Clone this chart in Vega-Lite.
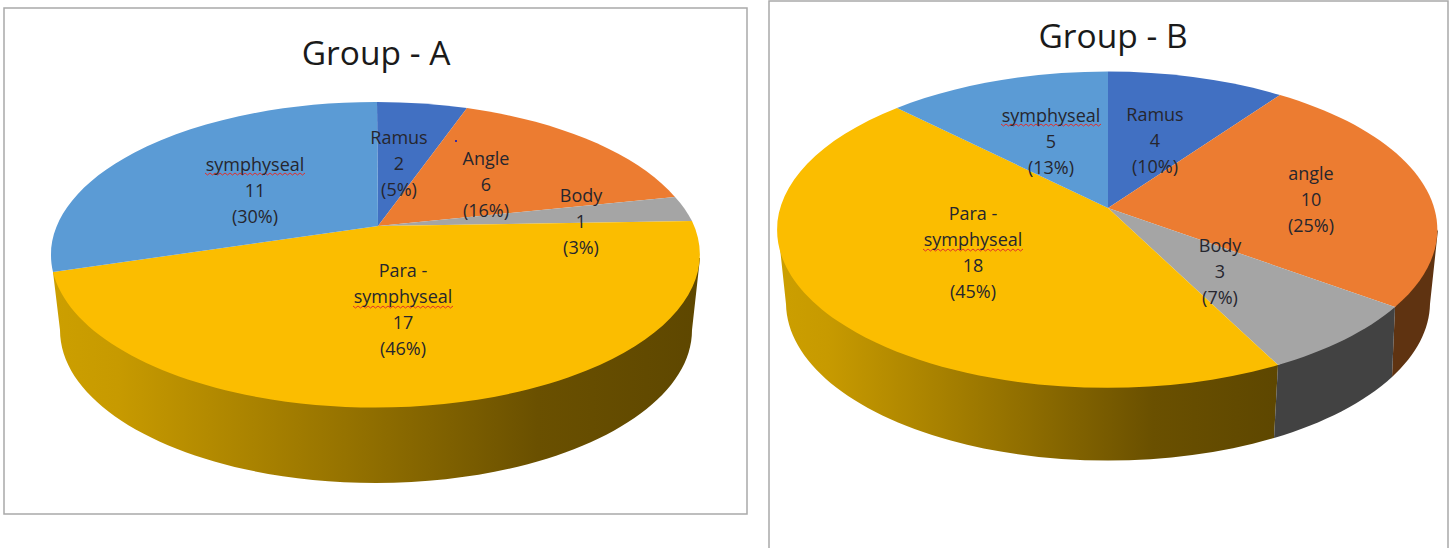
{
  "$schema": "https://vega.github.io/schema/vega-lite/v6.json",
  "width": 1453,
  "height": 548,
  "padding": 0,
  "autosize": {"type": "none"},
  "background": "white",
  "view": {"stroke": null},
  "datasets": {
    "slices": [
      {"slice": 1, "panel": 1, "key": "A-Ramus", "name": "Ramus", "count": 2, "pct": 5},
      {"slice": 2, "panel": 1, "key": "A-Angle", "name": "Angle", "count": 6, "pct": 16},
      {"slice": 3, "panel": 1, "key": "A-Body", "name": "Body", "count": 1, "pct": 3},
      {"slice": 4, "panel": 1, "key": "A-Para", "name": "Para -|symphyseal", "count": 17, "pct": 46},
      {"slice": 5, "panel": 1, "key": "A-Symph", "name": "symphyseal", "count": 11, "pct": 30},
      {"slice": 6, "panel": 2, "key": "B-Ramus", "name": "Ramus", "count": 4, "pct": 10},
      {"slice": 7, "panel": 2, "key": "B-Angle", "name": "angle", "count": 10, "pct": 25},
      {"slice": 8, "panel": 2, "key": "B-Body", "name": "Body", "count": 3, "pct": 7},
      {"slice": 9, "panel": 2, "key": "B-Para", "name": "Para -|symphyseal", "count": 18, "pct": 45},
      {"slice": 10, "panel": 2, "key": "B-Symph", "name": "symphyseal", "count": 5, "pct": 13}
    ],
    "panels": [
      {"panel": 1, "title": "Group - A"},
      {"panel": 2, "title": "Group - B"}
    ]
  },
  "layer": [
    {
      "description": "Chart frames",
      "data": {"name": "panels"},
      "mark": {"type": "point", "filled": false, "opacity": 1, "stroke": "#a9a9a9", "strokeWidth": 1.5},
      "encoding": {
        "x": {"field": "panel", "type": "quantitative", "axis": null, "scale": {"domain": [1, 2], "range": [378, 1108]}},
        "y": {"field": "panel", "type": "quantitative", "axis": null, "scale": {"domain": [1, 2], "range": [226, 208]}},
        "size": {"value": 4},
        "shape": {
          "field": "panel", "type": "nominal", "legend": null,
          "scale": {"domain": [1, 2], "range": [
            "M-374,-218L369,-218L369,288L-374,288Z",
            "M-339,-207L340,-207L340,350L-339,350Z"
          ]}
        }
      }
    },
    {
      "description": "Shaded rim under the Para-symphyseal slices",
      "data": {"name": "slices"},
      "transform": [{"filter": "datum.key === 'A-Para' || datum.key === 'B-Para'"}],
      "mark": {
        "type": "point", "filled": true, "opacity": 1,
        "fill": {
          "gradient": "linear", "x1": 0, "y1": 0, "x2": 1, "y2": 0,
          "stops": [
            {"offset": 0, "color": "#cc9f00"},
            {"offset": 0.1, "color": "#c79a00"},
            {"offset": 0.45, "color": "#967300"},
            {"offset": 0.75, "color": "#6a5000"},
            {"offset": 1, "color": "#5e4700"}
          ]
        }
      },
      "encoding": {
        "x": {"field": "panel", "type": "quantitative", "axis": null, "scale": {"domain": [1, 2], "range": [378, 1108]}},
        "y": {"field": "panel", "type": "quantitative", "axis": null, "scale": {"domain": [1, 2], "range": [226, 208]}},
        "size": {"value": 4},
        "shape": {
          "field": "key", "type": "nominal", "legend": null,
          "scale": {"domain": ["A-Para", "B-Para"], "range": [
            "M-325,46L322,32L314,104A316,153 0 0 1 -318,104Z",
            "M-330,21.5L170,157L166,230A322,158 0 0 1 -322,96Z"
          ]}
        }
      }
    },
    {
      "description": "Flat rim under the Body and angle slices of the second pie",
      "data": {"name": "slices"},
      "transform": [{"filter": "datum.key === 'B-Body' || datum.key === 'B-Angle'"}],
      "mark": {"type": "point", "filled": true, "opacity": 1},
      "encoding": {
        "x": {"field": "panel", "type": "quantitative", "axis": null, "scale": {"domain": [1, 2], "range": [378, 1108]}},
        "y": {"field": "panel", "type": "quantitative", "axis": null, "scale": {"domain": [1, 2], "range": [226, 208]}},
        "size": {"value": 4},
        "color": {
          "field": "key", "type": "nominal", "legend": null,
          "scale": {"domain": ["B-Body", "B-Angle"], "range": ["#424242", "#5f3311"]}
        },
        "shape": {
          "field": "key", "type": "nominal", "legend": null,
          "scale": {"domain": ["B-Body", "B-Angle"], "range": [
            "M170,157L287,99L284,169A322,158 0 0 1 166,230Z",
            "M287,99L330,21.5L322,96A322,158 0 0 1 284,169Z"
          ]}
        }
      }
    },
    {
      "description": "Top faces of both pies",
      "data": {"name": "slices"},
      "mark": {"type": "point", "filled": true, "opacity": 1},
      "encoding": {
        "x": {"field": "panel", "type": "quantitative", "axis": null, "scale": {"domain": [1, 2], "range": [378, 1108]}},
        "y": {"field": "panel", "type": "quantitative", "axis": null, "scale": {"domain": [1, 2], "range": [226, 208]}},
        "size": {"value": 4},
        "color": {
          "field": "key", "type": "nominal", "legend": null,
          "scale": {
            "domain": ["A-Ramus", "A-Angle", "A-Body", "A-Para", "A-Symph", "B-Ramus", "B-Angle", "B-Body", "B-Para", "B-Symph"],
            "range": ["#4170c2", "#ec7c31", "#a5a5a5", "#fbbd00", "#5b9bd5", "#4170c2", "#ec7c31", "#a5a5a5", "#fbbd00", "#5b9bd5"]
          }
        },
        "shape": {
          "field": "key", "type": "nominal", "legend": null,
          "scale": {
            "domain": ["A-Ramus", "A-Angle", "A-Body", "A-Para", "A-Symph", "B-Ramus", "B-Angle", "B-Body", "B-Para", "B-Symph"],
            "range": [
              "M0,0L-1,-124A324.5,153 0 0 1 89,-118Z",
              "M0,0L89,-118A324.5,153 0 0 1 297,-29Z",
              "M0,0L297,-29A324.5,153 0 0 1 314,-5Z",
              "M0,0L314,-5A324.5,153 0 1 1 -325,46Z",
              "M0,0L-325,46A324.5,153 0 0 1 -1,-124Z",
              "M0,0L0,-136.5A330,158 0 0 1 172,-113Z",
              "M0,0L172,-113A330,158 0 0 1 287,99Z",
              "M0,0L287,99A330,158 0 0 1 170,157Z",
              "M0,0L170,157A330,158 0 0 1 -211,-100Z",
              "M0,0L-211,-100A330,158 0 0 1 0,-136.5Z"
            ]
          }
        }
      }
    },
    {
      "description": "Stray speck on the Angle slice",
      "data": {"name": "panels"},
      "transform": [{"filter": "datum.panel === 1"}],
      "mark": {"type": "point", "filled": true, "opacity": 1, "fill": "#3b2c9e"},
      "encoding": {
        "x": {"field": "panel", "type": "quantitative", "axis": null, "scale": {"domain": [1, 2], "range": [378, 1108]}},
        "y": {"field": "panel", "type": "quantitative", "axis": null, "scale": {"domain": [1, 2], "range": [226, 208]}},
        "size": {"value": 4},
        "shape": {"value": "M77,-86L79,-86L79,-84L77,-84Z"}
      }
    },
    {
      "description": "Spell-check squiggles under the word symphyseal",
      "data": {"name": "slices"},
      "transform": [{"filter": "indexof(datum.name, 'symphyseal') >= 0"}],
      "mark": {"type": "point", "filled": false, "opacity": 1, "stroke": "#e0302c", "strokeWidth": 1},
      "encoding": {
        "x": {"field": "slice", "type": "quantitative", "axis": null, "scale": {"domain": [1, 2, 3, 4, 5, 6, 7, 8, 9, 10], "range": [399, 486, 581, 403, 255, 1155, 1311, 1220, 973, 1051]}},
        "y": {"field": "slice", "type": "quantitative", "axis": null, "scale": {"domain": [1, 2, 3, 4, 5, 6, 7, 8, 9, 10], "range": [139, 160, 197, 272, 166, 116, 175, 247, 215, 117]}},
        "size": {"value": 4},
        "shape": {
          "field": "name", "type": "nominal", "legend": null,
          "scale": {"domain": ["symphyseal", "Para -|symphyseal"], "range": [
            "M-50,7l2.5,2l2.5,-2l2.5,2l2.5,-2l2.5,2l2.5,-2l2.5,2l2.5,-2l2.5,2l2.5,-2l2.5,2l2.5,-2l2.5,2l2.5,-2l2.5,2l2.5,-2l2.5,2l2.5,-2l2.5,2l2.5,-2l2.5,2l2.5,-2l2.5,2l2.5,-2l2.5,2l2.5,-2l2.5,2l2.5,-2l2.5,2l2.5,-2l2.5,2l2.5,-2l2.5,2l2.5,-2l2.5,2l2.5,-2l2.5,2l2.5,-2l2.5,2l2.5,-2",
            "M-50,34l2.5,2l2.5,-2l2.5,2l2.5,-2l2.5,2l2.5,-2l2.5,2l2.5,-2l2.5,2l2.5,-2l2.5,2l2.5,-2l2.5,2l2.5,-2l2.5,2l2.5,-2l2.5,2l2.5,-2l2.5,2l2.5,-2l2.5,2l2.5,-2l2.5,2l2.5,-2l2.5,2l2.5,-2l2.5,2l2.5,-2l2.5,2l2.5,-2l2.5,2l2.5,-2l2.5,2l2.5,-2l2.5,2l2.5,-2l2.5,2l2.5,-2l2.5,2l2.5,-2"
          ]}
        }
      }
    },
    {
      "description": "Slice labels: name, count and percentage",
      "data": {"name": "slices"},
      "transform": [{"calculate": "datum.name + '|' + datum.count + '|(' + datum.pct + '%)'", "as": "label"}],
      "mark": {"type": "text", "font": "Open Sans", "fontSize": 18, "lineHeight": 26, "lineBreak": "|", "align": "center", "baseline": "middle", "fill": "#26262e"},
      "encoding": {
        "x": {"field": "slice", "type": "quantitative", "axis": null, "scale": {"domain": [1, 2, 3, 4, 5, 6, 7, 8, 9, 10], "range": [399, 486, 581, 403, 255, 1155, 1311, 1220, 973, 1051]}},
        "y": {"field": "slice", "type": "quantitative", "axis": null, "scale": {"domain": [1, 2, 3, 4, 5, 6, 7, 8, 9, 10], "range": [139, 160, 197, 272, 166, 116, 175, 247, 215, 117]}},
        "text": {"field": "label", "type": "nominal"}
      }
    },
    {
      "description": "Chart titles",
      "data": {"name": "panels"},
      "mark": {"type": "text", "font": "Open Sans", "fontSize": 33.5, "align": "center", "baseline": "middle", "fill": "#1a1a1a"},
      "encoding": {
        "x": {"field": "panel", "type": "quantitative", "axis": null, "scale": {"domain": [1, 2], "range": [376, 1113]}},
        "y": {"field": "panel", "type": "quantitative", "axis": null, "scale": {"domain": [1, 2], "range": [55, 38]}},
        "text": {"field": "title", "type": "nominal"}
      }
    }
  ],
  "resolve": {"scale": {"x": "independent", "y": "independent", "shape": "independent", "color": "independent"}}
}
